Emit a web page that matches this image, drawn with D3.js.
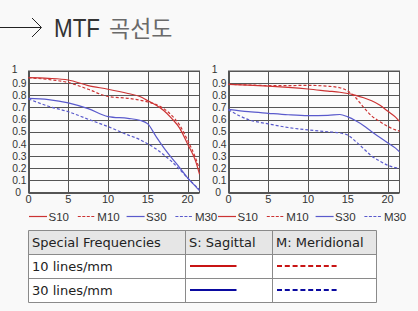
<!DOCTYPE html>
<html>
<head>
<meta charset="utf-8">
<script src="https://cdn.jsdelivr.net/npm/d3@7"></script>
<style>
  html, body { margin: 0; padding: 0; background: #f9f9f9; }
  svg { display: block; }
</style>
</head>
<body>
<svg id="chart" width="418" height="311"></svg>
<script>
// ---- data ----
const freqX = [0, 2.5, 5, 7.5, 10, 12.5, 14, 15, 16, 17, 18, 19, 20, 21, 21.5];
const xTicks = [0, 5, 10, 15, 20];
const yTicks = [0, 0.1, 0.2, 0.3, 0.4, 0.5, 0.6, 0.7, 0.8, 0.9, 1];
const yTickLabels = ["0", "0.1", "0.2", "0.3", "0.4", "0.5", "0.6", "0.7", "0.8", "0.9", "1"];

const leftS10 = [0.945, 0.94, 0.926, 0.88, 0.85, 0.815, 0.79, 0.755, 0.72, 0.675, 0.61, 0.53, 0.4, 0.26, 0.15];
const leftM10 = [0.945, 0.93, 0.905, 0.85, 0.79, 0.775, 0.76, 0.745, 0.725, 0.69, 0.635, 0.555, 0.43, 0.285, 0.19];
const leftS30 = [0.775, 0.765, 0.738, 0.69, 0.625, 0.61, 0.595, 0.565, 0.465, 0.37, 0.285, 0.205, 0.12, 0.05, 0.015];
const leftM30 = [0.77, 0.71, 0.665, 0.603, 0.542, 0.474, 0.435, 0.4, 0.36, 0.31, 0.255, 0.19, 0.12, 0.055, 0.025];

const rightS10 = [0.89, 0.883, 0.875, 0.865, 0.852, 0.835, 0.825, 0.815, 0.8, 0.78, 0.755, 0.72, 0.67, 0.62, 0.585];
const rightM10 = [0.89, 0.885, 0.88, 0.88, 0.882, 0.875, 0.862, 0.835, 0.78, 0.7, 0.63, 0.585, 0.545, 0.515, 0.505];
const rightS30 = [0.685, 0.665, 0.652, 0.64, 0.633, 0.635, 0.642, 0.622, 0.59, 0.55, 0.5, 0.455, 0.41, 0.365, 0.335];
const rightM30 = [0.68, 0.6, 0.565, 0.535, 0.515, 0.5, 0.49, 0.472, 0.42, 0.36, 0.3, 0.26, 0.225, 0.205, 0.2];

const seriesNames = ["S10", "M10", "S30", "M30"];
const tableHeader = ["Special Frequencies", "S: Sagittal", "M: Meridional"];
const tableRows = ["10 lines/mm", "30 lines/mm"];

// ---- styles ----
const RED = "#cc3333", BLUE = "#5a5acc";
const seriesStyle = {
  S10: { color: RED, dash: null },
  M10: { color: RED, dash: "3,2" },
  S30: { color: BLUE, dash: null },
  M30: { color: BLUE, dash: "3,2" }
};

const svg = d3.select("#chart");

// ---- title ----
const title = svg.append("g");
title.append("line").attr("x1", 0).attr("x2", 41).attr("y1", 27.5).attr("y2", 27.5)
  .attr("stroke", "#222").attr("stroke-width", 1);
title.append("path").attr("d", "M32,18 L41.5,27.5 L32,37")
  .attr("fill", "none").attr("stroke", "#222").attr("stroke-width", 1);
title.append("text").attr("x", 54).attr("y", 37.3)
  .attr("font-family", "Liberation Sans, Arial, sans-serif")
  .attr("font-size", 26).attr("fill", "#333")
  .attr("textLength", 46).attr("lengthAdjust", "spacingAndGlyphs")
  .text("MTF");
title.append("text").attr("x", 109).attr("y", 37)
  .attr("font-family", "Noto Sans CJK KR, sans-serif")
  .attr("font-size", 23).attr("fill", "#6a6a6a")
  .text("곡선도");

// ---- charts ----
const FONT = "Liberation Sans, Arial, sans-serif";
const TICK_FS = 10.3;

function drawChart(offsetX, data) {
  const g = svg.append("g").attr("transform", `translate(${offsetX},0)`);
  const x = d3.scaleLinear().domain([0, 21.5]).range([28.5, 199.5]);
  const y = d3.scaleLinear().domain([0, 1]).range([192.5, 71]);

  // frame & grid
  g.append("rect").attr("x", x(0)).attr("y", y(1))
    .attr("width", x(21.5) - x(0)).attr("height", y(0) - y(1))
    .attr("fill", "#fbfbfb").attr("stroke", "#555").attr("stroke-width", 1);
  g.selectAll(".hg").data(yTicks).enter().append("line")
    .attr("x1", x(0)).attr("x2", x(21.5))
    .attr("y1", d => Math.round(y(d)) + 0.5).attr("y2", d => Math.round(y(d)) + 0.5)
    .attr("stroke", "#555").attr("stroke-width", 1);
  g.selectAll(".vg").data(xTicks).enter().append("line")
    .attr("x1", d => Math.round(x(d)) + 0.5).attr("x2", d => Math.round(x(d)) + 0.5)
    .attr("y1", y(1)).attr("y2", y(0))
    .attr("stroke", "#555").attr("stroke-width", 1);

  // y labels
  g.selectAll(".yl").data(yTicks).enter().append("text")
    .attr("x", d => d === 1 ? 17.5 : (d === 0 ? 21 : 26.5))
    .attr("y", d => y(d) + (d === 1 ? -2 : 0))
    .attr("dy", "0.36em")
    .attr("text-anchor", "end")
    .attr("font-family", FONT).attr("font-size", TICK_FS).attr("fill", "#333")
    .text((d, i) => yTickLabels[i]);
  // x labels
  g.selectAll(".xl").data(xTicks).enter().append("text")
    .attr("x", d => x(d)).attr("y", 202.5)
    .attr("text-anchor", "middle")
    .attr("font-family", FONT).attr("font-size", 11).attr("fill", "#333")
    .text(d => d);

  // lines
  const line = d3.line().x((d, i) => x(freqX[i])).y(d => y(d)).curve(d3.curveMonotoneX);
  const order = ["M30", "S30", "M10", "S10"];
  order.forEach(name => {
    const st = seriesStyle[name];
    g.append("path").datum(data[name])
      .attr("d", line)
      .attr("fill", "none")
      .attr("stroke", st.color)
      .attr("stroke-width", 1.2)
      .attr("stroke-dasharray", st.dash);
  });
}

drawChart(0, { S10: leftS10, M10: leftM10, S30: leftS30, M30: leftM30 });
drawChart(200, { S10: rightS10, M10: rightM10, S30: rightS30, M30: rightM30 });

// ---- chart legends ----
const legendStarts = [29, 218];
legendStarts.forEach(lx => {
  const lg = svg.append("g").attr("transform", `translate(${lx},216.5)`);
  seriesNames.forEach((name, i) => {
    const st = seriesStyle[name];
    const ox = i * 48.8;
    lg.append("line").attr("x1", ox).attr("x2", ox + 18).attr("y1", 0).attr("y2", 0)
      .attr("stroke", st.color).attr("stroke-width", 1.2)
      .attr("stroke-dasharray", st.dash ? "3,1.5" : null);
    lg.append("text").attr("x", ox + 19.5).attr("y", 0).attr("dy", "0.36em")
      .attr("font-family", FONT).attr("font-size", 11.5).attr("fill", "#333")
      .text(name);
  });
});

// ---- table ----
const tX = [28.5, 185.5, 272.5, 376.5];
const tY = [230.5, 254.5, 278.5, 302.5];
const tbl = svg.append("g");
tbl.append("rect").attr("x", tX[0]).attr("y", tY[0]).attr("width", tX[3] - tX[0]).attr("height", tY[1] - tY[0])
  .attr("fill", "#e6e6e6");
tbl.append("rect").attr("x", tX[0]).attr("y", tY[1]).attr("width", tX[3] - tX[0]).attr("height", tY[3] - tY[1])
  .attr("fill", "#ffffff");
tY.forEach(yy => tbl.append("line").attr("x1", tX[0]).attr("x2", tX[3]).attr("y1", yy).attr("y2", yy)
  .attr("stroke", "#8a8a8a"));
tX.forEach(xx => tbl.append("line").attr("x1", xx).attr("x2", xx).attr("y1", tY[0]).attr("y2", tY[3])
  .attr("stroke", "#8a8a8a"));
const TFONT = "DejaVu Sans, Verdana, sans-serif";
tableHeader.forEach((h, i) => {
  tbl.append("text").attr("x", tX[i] + 3.5).attr("y", (tY[0] + tY[1]) / 2).attr("dy", "0.36em")
    .attr("font-family", TFONT).attr("font-size", 13).attr("fill", "#222").text(h);
});
const rowColors = ["#c81414", "#0a0aa0"];
tableRows.forEach((r, i) => {
  const cy = (tY[i + 1] + tY[i + 2]) / 2;
  tbl.append("text").attr("x", tX[0] + 3.5).attr("y", cy).attr("dy", "0.36em")
    .attr("font-family", TFONT).attr("font-size", 13).attr("fill", "#222").text(r);
  tbl.append("line").attr("x1", 190).attr("x2", 236.5).attr("y1", cy - 0.5).attr("y2", cy - 0.5)
    .attr("stroke", rowColors[i]).attr("stroke-width", 2);
  tbl.append("line").attr("x1", 277).attr("x2", 338.5).attr("y1", cy - 0.5).attr("y2", cy - 0.5)
    .attr("stroke", rowColors[i]).attr("stroke-width", 2).attr("stroke-dasharray", "5,2.8");
});
</script>
</body>
</html>
